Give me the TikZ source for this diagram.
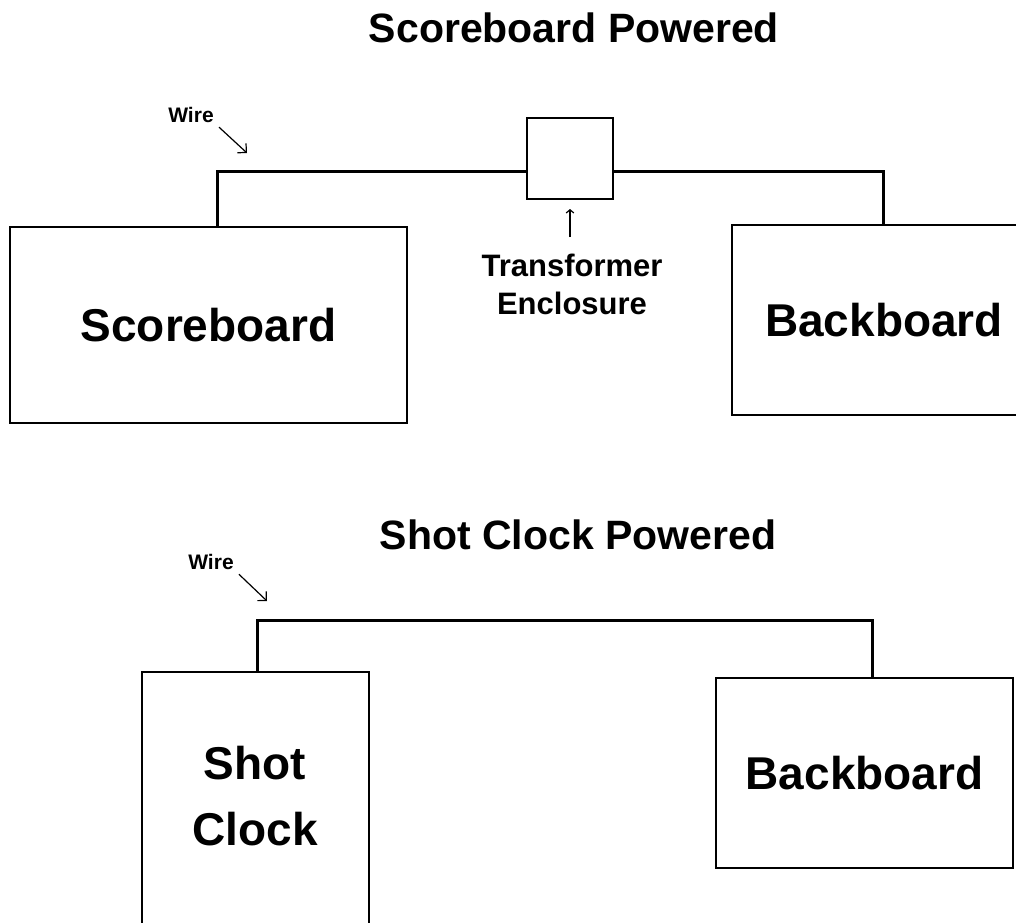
\documentclass[tikz,border=0pt]{standalone}
\usepackage{fontspec}
\setmainfont{Liberation Sans}
\usetikzlibrary{arrows.meta}
\tikzset{
  unitbox/.style={draw, line width=2pt, inner sep=0pt, align=center,
    font=\fontsize{46}{66}\selectfont\bfseries},
  boxtext/.style={inner sep=0pt, align=center, font=\fontsize{46}{66}\selectfont\bfseries},
  titletext/.style={inner sep=0pt, font=\fontsize{41}{49}\selectfont\bfseries},
  labeltext/.style={inner sep=0pt, align=center, font=\fontsize{31}{38}\selectfont\bfseries},
  wiretext/.style={inner sep=0pt, font=\fontsize{21}{25}\selectfont\bfseries},
  wire/.style={line width=3pt},
  wirepointer/.style={line width=1.2pt, -{Straight Barb[angle=90:9pt, line width=1.2pt]}},
  smallpointer/.style={line width=1.2pt, -{Straight Barb[angle=100:5pt, line width=1.2pt]}}
}
\begin{document}
\begin{tikzpicture}[x=1pt, y=-1pt]
  \useasboundingbox (0,0) rectangle (1016,922);
  \fill[white] (0,0) rectangle (1016,922);
  \clip (0,0) rectangle (1016,922);

  % scoreboard powered
  \node[titletext, anchor=base] (titleA) at (574,42) {Scoreboard Powered};
  \node[unitbox, minimum width=397pt, minimum height=196pt] (scoreboard) at (208.5,325) {Scoreboard};
  \node[draw, line width=2pt, minimum width=86pt, minimum height=81pt] (transformer) at (570,158.5) {};
  \node[unitbox, minimum width=304pt, minimum height=190pt] (backtop) at (884,320) {Backboard};
  \node[labeltext, anchor=north] (enclosurelabel) at (572,254) {Transformer\\Enclosure};
  \node[wiretext] (wirelabelA) at (191,114.5) {Wire};
  \coordinate (wiretipA) at (247,153);

  \draw[wire] ([xshift=8.5pt]scoreboard.north) |- ([yshift=-12.5pt]transformer.west);
  \draw[wire] ([yshift=-12.5pt]transformer.east) -| ([xshift=-1pt]backtop.north);
  \draw[smallpointer, shorten <=17pt, shorten >=9pt] (enclosurelabel.north -| transformer.south) -- (transformer.south);
  \draw[wirepointer, shorten <=7pt] (wirelabelA.south east) -- (wiretipA);

  % shot clock powered
  \node[titletext, anchor=base] (titleB) at (578,549) {Shot Clock Powered};
  \node[unitbox, minimum width=227pt, minimum height=268pt] (shotclock) at (255.5,806) {};
  \node[boxtext] (shotclocklabel) at (255,796.5) {Shot\\Clock};
  \node[unitbox, minimum width=297pt, minimum height=190pt] (backbottom) at (864.5,773) {Backboard};
  \node[wiretext] (wirelabelB) at (211,561.5) {Wire};
  \coordinate (wiretipB) at (267,601);

  \draw[wire] ([xshift=1.5pt]shotclock.north) -- ++(0,-51) -| ([xshift=7.5pt]backbottom.north);
  \draw[wirepointer, shorten <=7pt] (wirelabelB.south east) -- (wiretipB);
\end{tikzpicture}
\end{document}
